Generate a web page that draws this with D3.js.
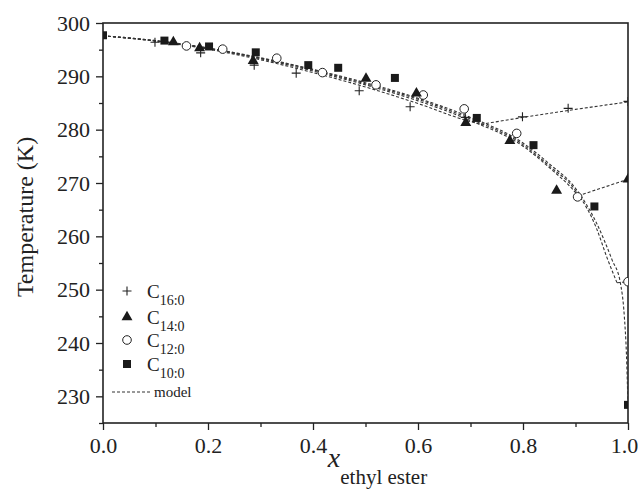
<!DOCTYPE html>
<html>
<head>
<meta charset="utf-8">
<script src="https://cdn.jsdelivr.net/npm/d3@7"></script>
<style>
  body { margin: 0; background: #fff; }
  svg text { font-family: "Liberation Serif", "Times New Roman", serif; fill: #222; }
</style>
</head>
<body>
<div id="chart"></div>
<script>
// measured points, [x ethyl ester, T (K)]
var c16 = [[0.099, 296.4], [0.186, 294.4], [0.288, 292.1], [0.368, 290.6], [0.488, 287.3],
           [0.585, 284.3], [0.69, 282.3], [0.799, 282.4], [0.886, 284.0], [1.0, 285.3]];
var c14 = [[0.134, 296.4], [0.184, 295.3], [0.286, 292.9], [0.501, 289.6], [0.597, 286.8],
           [0.691, 281.3], [0.775, 277.9], [0.864, 268.6], [1.0, 270.7]];
var c12 = [[0.159, 295.7], [0.228, 295.1], [0.331, 293.4], [0.418, 290.7], [0.52, 288.4],
           [0.61, 286.5], [0.688, 283.9], [0.788, 279.3], [0.904, 267.4], [1.0, 251.5]];
var c10 = [[0.0, 297.7], [0.117, 296.7], [0.202, 295.6], [0.291, 294.5], [0.391, 292.1],
           [0.448, 291.6], [0.556, 289.7], [0.712, 282.2], [0.82, 277.1], [0.936, 265.6], [1.0, 228.4]];

// model curves (liquidus + second branch after the eutectic)
var modelC16 = [[0, 297.6], [0.1, 296.6], [0.2, 295.1], [0.3, 293.1], [0.4, 290.7], [0.5, 288.0],
                [0.6, 284.9], [0.7, 281.5], [0.72, 281.0]];
var modelC16b = [[0.72, 281.0], [0.8, 282.3], [0.9, 283.8], [1.0, 285.2]];
var modelC14 = [[0, 297.6], [0.1, 296.6], [0.2, 295.2], [0.3, 293.3], [0.4, 291.0], [0.5, 288.4],
                [0.6, 285.4], [0.7, 281.7], [0.8, 276.9], [0.85, 272.9], [0.9, 268.2], [0.905, 267.6]];
var modelC14b = [[0.905, 267.6], [1.0, 270.7]];
var modelC12 = [[0, 297.6], [0.1, 296.7], [0.2, 295.3], [0.3, 293.4], [0.4, 291.2], [0.5, 288.6],
                [0.6, 285.7], [0.7, 282.0], [0.8, 277.2], [0.85, 273.2], [0.9, 268.6], [0.94, 261.5],
                [0.96, 256.0], [0.979, 251.3]];
var modelC12b = [[0.979, 251.3], [1.0, 251.5]];
var modelC10 = [[0, 297.6], [0.1, 296.7], [0.2, 295.3], [0.3, 293.5], [0.4, 291.3], [0.5, 288.8],
                [0.6, 285.9], [0.7, 282.3], [0.8, 277.5], [0.85, 273.6], [0.9, 269.0], [0.94, 262.5],
                [0.97, 255.5], [0.985, 251.5], [0.993, 245.0], [0.997, 238.0], [1.0, 228.2]];

var xTicks = [0, 0.2, 0.4, 0.6, 0.8, 1.0];
var xMinor = [0.1, 0.3, 0.5, 0.7, 0.9];
var yTicks = [230, 240, 250, 260, 270, 280, 290, 300];
var yMinor = [225, 235, 245, 255, 265, 275, 285, 295];

var margin = {top: 23, right: 10, bottom: 69, left: 103},
    width = 638 - margin.left - margin.right,
    height = 492 - margin.top - margin.bottom;

var svg = d3.select("#chart")
    .append("svg")
    .attr("width", 638)
    .attr("height", 492)
    .append("g")
    .attr("transform", "translate(" + margin.left + "," + margin.top + ")");

var x = d3.scaleLinear().domain([0, 1]).range([0, width]);
var y = d3.scaleLinear().domain([225, 300]).range([height, 0]);

svg.append("clipPath").attr("id", "plotclip")
  .append("rect").attr("width", width).attr("height", height);

// axes, ticks pointing out
function styleAxis(g) {
  g.select(".domain").remove();
  g.selectAll("line").attr("stroke", "#222").attr("stroke-width", 1.3);
  g.selectAll("text").style("font-size", "22px").attr("fill", "#222");
}

var xAxis = svg.append("g")
    .attr("transform", "translate(0," + height + ")")
    .call(d3.axisBottom(x).tickValues(xTicks).tickSize(7).tickPadding(7).tickFormat(d3.format(".1f")))
    .call(styleAxis);
// last label sits a little left of its tick, as in the original
xAxis.selectAll(".tick text").filter(function(d) { return d === 1; }).attr("dx", -4);

svg.append("g")
    .attr("transform", "translate(0," + height + ")")
    .call(d3.axisBottom(x).tickValues(xMinor).tickSize(4).tickFormat(""))
    .call(styleAxis);
svg.append("g")
    .call(d3.axisLeft(y).tickValues(yTicks).tickSize(7).tickPadding(6).tickFormat(d3.format("d")))
    .call(styleAxis);
svg.append("g")
    .call(d3.axisLeft(y).tickValues(yMinor).tickSize(4).tickFormat(""))
    .call(styleAxis);

// frame
svg.append("rect")
    .attr("width", width)
    .attr("height", height)
    .attr("fill", "none")
    .attr("stroke", "#222")
    .attr("stroke-width", 1.6);

// model lines
var line = d3.line()
    .x(function(d) { return x(d[0]); })
    .y(function(d) { return y(d[1]); })
    .curve(d3.curveMonotoneX);

var plot = svg.append("g").attr("clip-path", "url(#plotclip)");

[modelC16, modelC16b, modelC14, modelC14b, modelC12, modelC12b, modelC10].forEach(function(m) {
  plot.append("path")
      .datum(m)
      .attr("fill", "none")
      .attr("stroke", "#333")
      .attr("stroke-width", 1.1)
      .attr("stroke-dasharray", "3,2")
      .attr("d", line);
});

// marker shapes
var plusPath = "M-4.5,0H4.5M0,-4.5V4.5";
var triPath = d3.symbol().type(d3.symbolTriangle).size(52)();
var sqPath = d3.symbol().type(d3.symbolSquare).size(64)();

function drawPlus(g, data) {
  g.selectAll(null).data(data).enter().append("path")
      .attr("d", plusPath)
      .attr("transform", function(d) { return "translate(" + x(d[0]) + "," + y(d[1]) + ")"; })
      .attr("stroke", "#222").attr("stroke-width", 1.1).attr("fill", "none");
}
function drawTri(g, data) {
  g.selectAll(null).data(data).enter().append("path")
      .attr("d", triPath)
      .attr("transform", function(d) { return "translate(" + x(d[0]) + "," + y(d[1]) + ")"; })
      .attr("fill", "#1a1a1a");
}
function drawCircle(g, data) {
  g.selectAll(null).data(data).enter().append("circle")
      .attr("cx", function(d) { return x(d[0]); })
      .attr("cy", function(d) { return y(d[1]); })
      .attr("r", 4.3)
      .attr("fill", "#fff").attr("stroke", "#222").attr("stroke-width", 1);
}
function drawSquare(g, data) {
  g.selectAll(null).data(data).enter().append("path")
      .attr("d", sqPath)
      .attr("transform", function(d) { return "translate(" + x(d[0]) + "," + y(d[1]) + ")"; })
      .attr("fill", "#1a1a1a");
}

drawPlus(plot, c16);
drawCircle(plot, c12);
drawTri(plot, c14);
drawSquare(plot, c10);

// legend
var legend = svg.append("g");
var rows = [
  {label: "16:0", draw: drawPlus, y: 268},
  {label: "14:0", draw: drawTri, y: 294},
  {label: "12:0", draw: drawCircle, y: 317},
  {label: "10:0", draw: drawSquare, y: 341}
];
rows.forEach(function(r) {
  // legend marker uses data-space position so the helpers can be reused
  r.draw(legend, [[x.invert(24), y.invert(r.y)]]);
  var t = legend.append("text")
      .attr("x", 44)
      .attr("y", r.y + 7)
      .style("font-size", "19px");
  t.append("tspan").text("C");
  t.append("tspan").attr("dy", 7).style("font-size", "14px").text(r.label);
});
legend.append("line")
    .attr("x1", 9).attr("x2", 48)
    .attr("y1", 369).attr("y2", 369)
    .attr("stroke", "#333").attr("stroke-width", 1.1).attr("stroke-dasharray", "3,2");
legend.append("text")
    .attr("x", 51)
    .attr("y", 374)
    .style("font-size", "15px")
    .text("model");

// axis titles
svg.append("text")
    .attr("transform", "rotate(-90)")
    .attr("x", -height / 2 + 6)
    .attr("y", -70)
    .attr("text-anchor", "middle")
    .style("font-size", "24px")
    .text("Temperature (K)");

// title starts just right of the 0.4 label
var xt = svg.append("text")
    .attr("x", width / 2 + 12)
    .attr("y", height + 44)
    .attr("text-anchor", "middle");
xt.append("tspan").style("font-style", "italic").style("font-size", "28px").text("x");
xt.append("tspan").attr("dy", 17).style("font-size", "21px").text("ethyl ester");
</script>
</body>
</html>
